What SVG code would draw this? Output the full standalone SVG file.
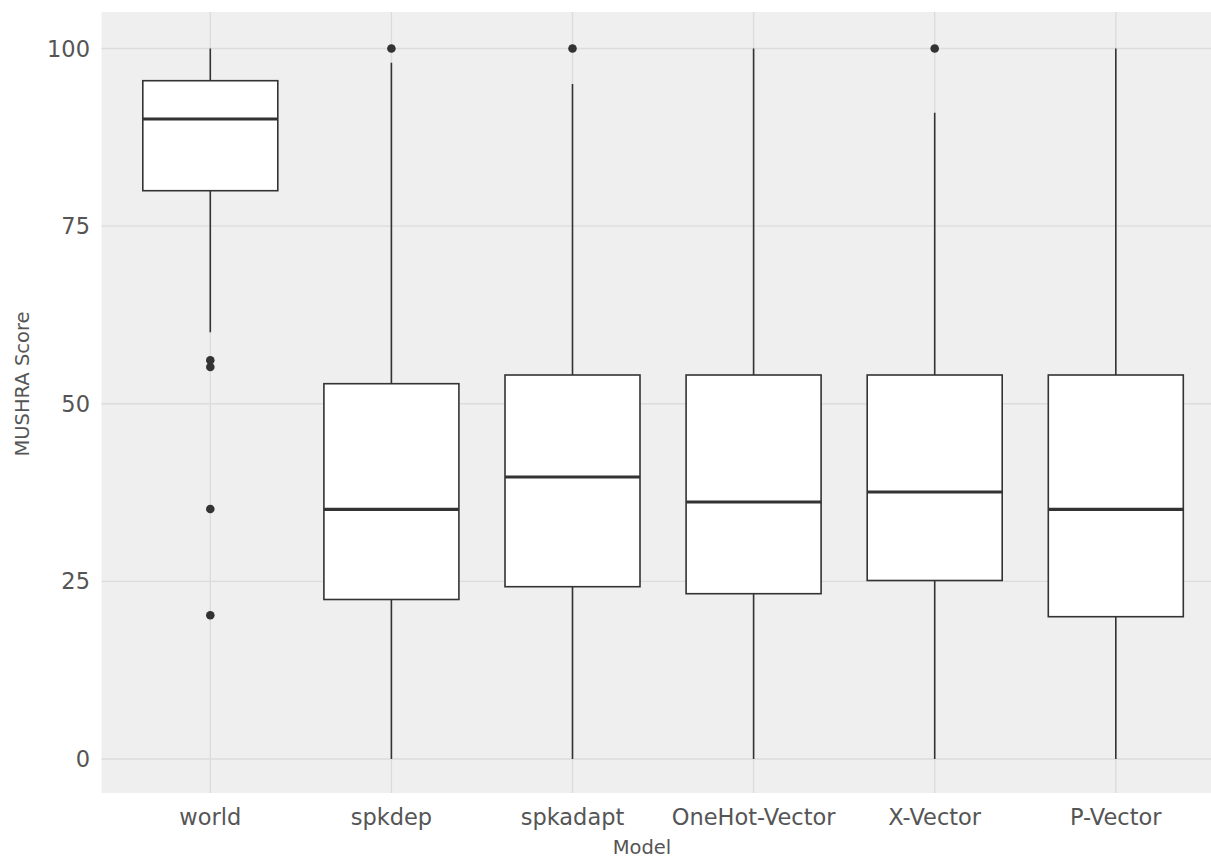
<svg xmlns="http://www.w3.org/2000/svg" width="1211" height="857" viewBox="0 0 1211 857">
<style>
.grid{stroke:#dcdcdc;stroke-width:1.4;fill:none}
.box{fill:#ffffff;stroke:#333333;stroke-width:1.6}
.med{stroke:#333333;stroke-width:3.2}
.wh{stroke:#333333;stroke-width:1.6}
.out{fill:#333333}
.tick{font-family:"DejaVu Sans",sans-serif;font-size:22.5px;fill:#555555}
.title{font-family:"DejaVu Sans",sans-serif;font-size:19.5px;fill:#555555}
</style>
<rect x="0" y="0" width="1211" height="857" fill="#ffffff"/>
<g id="panel">
<rect x="101.5" y="12" width="1110" height="781" fill="#efefef"/>
<line class="grid" x1="101.5" y1="759" x2="1211" y2="759"/>
<line class="grid" x1="101.5" y1="581.4" x2="1211" y2="581.4"/>
<line class="grid" x1="101.5" y1="403.7" x2="1211" y2="403.7"/>
<line class="grid" x1="101.5" y1="226.1" x2="1211" y2="226.1"/>
<line class="grid" x1="101.5" y1="48.5" x2="1211" y2="48.5"/>
<line class="grid" x1="210.3" y1="12" x2="210.3" y2="793"/>
<line class="grid" x1="391.4" y1="12" x2="391.4" y2="793"/>
<line class="grid" x1="572.5" y1="12" x2="572.5" y2="793"/>
<line class="grid" x1="753.6" y1="12" x2="753.6" y2="793"/>
<line class="grid" x1="934.7" y1="12" x2="934.7" y2="793"/>
<line class="grid" x1="1115.8" y1="12" x2="1115.8" y2="793"/>
</g>
<g id="axis-y">
<text class="tick" x="90" y="56.5" text-anchor="end">100</text>
<text class="tick" x="90" y="234" text-anchor="end">75</text>
<text class="tick" x="90" y="411.5" text-anchor="end">50</text>
<text class="tick" x="90" y="589" text-anchor="end">25</text>
<text class="tick" x="90" y="767" text-anchor="end">0</text>
<text class="title" transform="translate(29,384) rotate(-90)" text-anchor="middle">MUSHRA Score</text>
</g>
<g id="axis-x">
<text class="tick" x="210.3" y="825" text-anchor="middle">world</text>
<text class="tick" x="391.4" y="825" text-anchor="middle">spkdep</text>
<text class="tick" x="572.5" y="825" text-anchor="middle">spkadapt</text>
<text class="tick" x="753.6" y="825" text-anchor="middle">OneHot-Vector</text>
<text class="tick" x="934.7" y="825" text-anchor="middle">X-Vector</text>
<text class="tick" x="1115.8" y="825" text-anchor="middle">P-Vector</text>
<text class="title" x="642" y="854" text-anchor="middle">Model</text>
</g>
<g id="connectors">
<line class="wh" x1="210.3" y1="48.5" x2="210.3" y2="80.7"/>
<line class="wh" x1="210.3" y1="190.7" x2="210.3" y2="332.3"/>
<line class="wh" x1="391.4" y1="62.7" x2="391.4" y2="383.7"/>
<line class="wh" x1="391.4" y1="599.5" x2="391.4" y2="759"/>
<line class="wh" x1="572.5" y1="84" x2="572.5" y2="375"/>
<line class="wh" x1="572.5" y1="586.7" x2="572.5" y2="759"/>
<line class="wh" x1="753.6" y1="48.5" x2="753.6" y2="375"/>
<line class="wh" x1="753.6" y1="593.7" x2="753.6" y2="759"/>
<line class="wh" x1="934.7" y1="112.7" x2="934.7" y2="375"/>
<line class="wh" x1="934.7" y1="580.5" x2="934.7" y2="759"/>
<line class="wh" x1="1115.8" y1="48.5" x2="1115.8" y2="375"/>
<line class="wh" x1="1115.8" y1="616.7" x2="1115.8" y2="759"/>
</g>
<g id="world">
<rect class="box" x="142.8" y="80.7" width="135" height="110"/>
<line class="med" x1="142.8" y1="119" x2="277.8" y2="119"/>
<circle class="out" cx="210.3" cy="360.3" r="4.3"/>
<circle class="out" cx="210.3" cy="367" r="4.3"/>
<circle class="out" cx="210.3" cy="509" r="4.3"/>
<circle class="out" cx="210.3" cy="615.3" r="4.3"/>
</g>
<g id="spkdep">
<rect class="box" x="323.9" y="383.7" width="135" height="215.8"/>
<line class="med" x1="323.9" y1="509.3" x2="458.9" y2="509.3"/>
<circle class="out" cx="391.4" cy="48.5" r="4.3"/>
</g>
<g id="spkadapt">
<rect class="box" x="505" y="375" width="135" height="211.7"/>
<line class="med" x1="505" y1="477" x2="640" y2="477"/>
<circle class="out" cx="572.5" cy="48.5" r="4.3"/>
</g>
<g id="onehot-vector">
<rect class="box" x="686.1" y="375" width="135" height="218.7"/>
<line class="med" x1="686.1" y1="502" x2="821.1" y2="502"/>
</g>
<g id="x-vector">
<rect class="box" x="867.2" y="375" width="135" height="205.5"/>
<line class="med" x1="867.2" y1="492" x2="1002.2" y2="492"/>
<circle class="out" cx="934.7" cy="48.5" r="4.3"/>
</g>
<g id="p-vector">
<rect class="box" x="1048.3" y="375" width="135" height="241.7"/>
<line class="med" x1="1048.3" y1="509.3" x2="1183.3" y2="509.3"/>
</g>
</svg>
